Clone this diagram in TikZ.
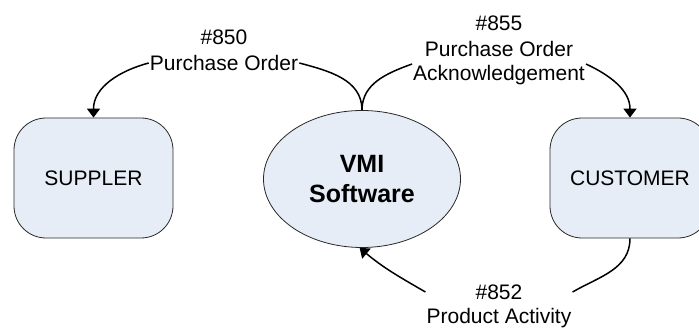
\documentclass[tikz,border=0pt]{standalone}
\usepackage{fontspec}
\setmainfont{Liberation Sans}
\usetikzlibrary{arrows.meta,shapes.geometric}
\definecolor{boxfill}{RGB}{230,237,247}
\definecolor{boxline}{RGB}{40,40,40}
\tikzset{
  party/.style={draw=boxline, line width=0.8pt, fill=boxfill, rounded corners=32pt,
    minimum width=159pt, minimum height=120pt, inner sep=0pt,
    font=\fontsize{21}{26}\selectfont},
  hub/.style={ellipse, draw=boxline, line width=0.8pt, fill=boxfill,
    minimum width=197pt, minimum height=137pt, inner sep=0pt, align=center,
    font=\fontsize{25}{30}\selectfont\bfseries},
  msg/.style={inner sep=1pt, font=\fontsize{21}{26}\selectfont},
  flow/.style={line width=1.5pt, black},
  tip/.style={-{Triangle[length=9pt,width=13pt]}}
}
\begin{document}
\begin{tikzpicture}[x=1pt,y=1pt]
\useasboundingbox (0,0) rectangle (699,327);

% trading partners and the VMI hub
\node[party] (sup) at (93.5,149) {SUPPLER};
\node[party, minimum width=160pt] (cus) at (630,149) {CUSTOMER};
\node[hub] (vmi) at (362,148) {VMI\\Software};

% message labels, one node per line
\node[msg] (l850a) at (224,290) {\#850};
\node[msg] (l850b) at (224,264) {Purchase Order};
\node[msg] (l855a) at (499,304) {\#855};
\node[msg] (l855b) at (499,278) {Purchase Order};
\node[msg] (l855c) at (499,252) {Acknowledgement};
\node[msg] (l852a) at (499,35) {\#852};
\node[msg] (l852b) at (499,9) {Product Activity};

% 850: VMI -> supplier
\draw[flow] (vmi.north) to[out=90,in=-15] (l850b.east);
\draw[flow,tip] (l850b.west) to[out=195,in=90] (sup.north);

% 855: VMI -> customer
\draw[flow] (vmi.north) to[out=90,in=200] (l855c.north west);
\draw[flow,tip] (l855c.north east) to[out=-25,in=90] (cus.north);

% 852: customer -> VMI
\draw[flow] (cus.south) to[out=-90,in=30] (l852a -| l852b.east);
\draw[flow,tip] (l852a -| l852b.west) to[out=150,in=-40] (vmi.-92);
\end{tikzpicture}
\end{document}
